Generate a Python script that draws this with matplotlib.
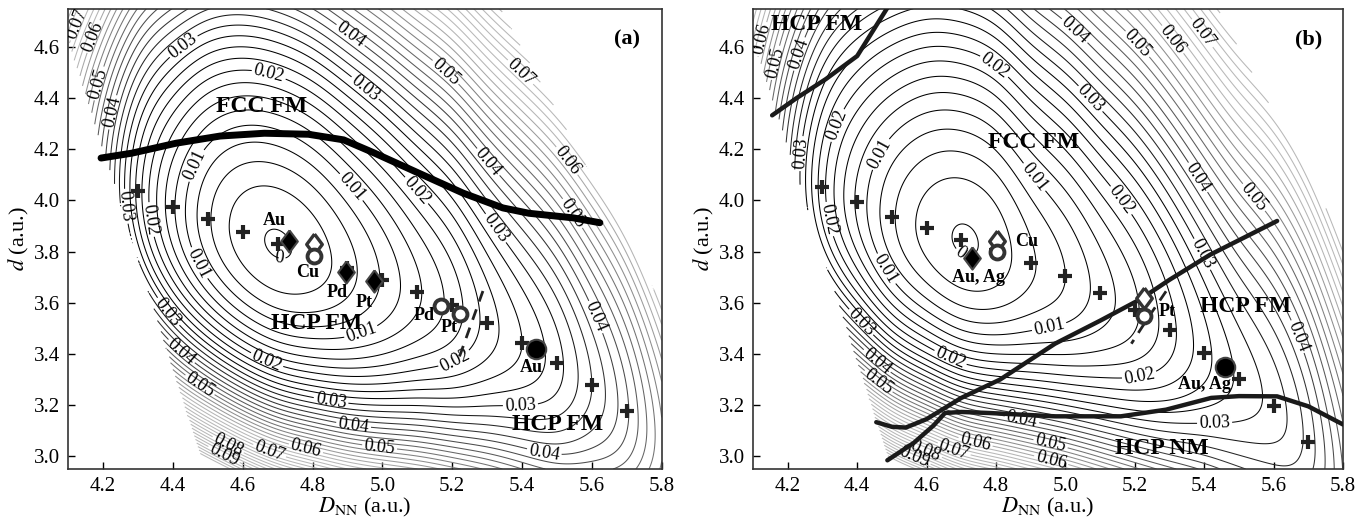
import numpy as np
import matplotlib
matplotlib.use("Agg")
import matplotlib.pyplot as plt

plt.rcParams['font.family'] = ['Liberation Serif', 'DejaVu Serif']
plt.rcParams['mathtext.fontset'] = 'stix'

# ---------------- data ----------------
# epitaxial path (the "+" points) : D_NN, d and energy along the path
path_x = [4.1, 4.2, 4.3, 4.4, 4.5, 4.6, 4.7, 4.8, 4.9, 5.0, 5.1, 5.2, 5.3, 5.4, 5.5, 5.6, 5.7, 5.8]
path_y_a = [4.158, 4.097, 4.036, 3.975, 3.928, 3.878, 3.828, 3.784, 3.735, 3.69, 3.644, 3.59, 3.52, 3.444, 3.363, 3.277, 3.176, 3.06]
path_E_a = [0.060, 0.041, 0.024, 0.013, 0.0055, 0.0012, -0.0002, 0.0010, 0.0040, 0.0078, 0.0120, 0.0160, 0.021, 0.025, 0.029, 0.035, 0.042, 0.052]
path_y_b = [4.165, 4.11, 4.054, 3.996, 3.935, 3.892, 3.846, 3.807, 3.755, 3.703, 3.64, 3.573, 3.495, 3.404, 3.30, 3.195, 3.055, 2.90]
path_E_b = [0.056, 0.036, 0.021, 0.012, 0.0055, 0.0015, -0.0002, 0.0010, 0.0045, 0.0075, 0.011, 0.0145, 0.019, 0.024, 0.028, 0.031, 0.036, 0.045]
plus_first, plus_last = 2, 16  # "+" markers at D_NN = 4.3 ... 5.7

# stiffness above / below the path  (k_up, softening_up, k_down, hardening_down)
stiff_a = [0.062, 0.5, 0.074, 0.5]
stiff_b = [0.054, 0.65, 0.068, 0.6]

levels_step = 0.0025
levels_max = 0.10
label_step = 0.01

# panel (a) boundary line FCC / HCP
bnd_a_x = [4.194, 4.282, 4.409, 4.535, 4.662, 4.788, 4.889, 4.978, 5.104, 5.231, 5.345, 5.42, 5.547, 5.623]
bnd_a_y = [4.166, 4.185, 4.224, 4.252, 4.263, 4.259, 4.237, 4.185, 4.107, 4.029, 3.971, 3.95, 3.932, 3.913]
dash_a_x = [5.288, 5.255, 5.218]
dash_a_y = [3.646, 3.52, 3.379]

# panel (b) boundary lines
lineA_x = [4.455, 4.50, 4.54, 4.60, 4.70, 4.812, 4.97, 5.10, 5.215, 5.30, 5.417, 5.61]
lineA_y = [3.133, 3.115, 3.112, 3.145, 3.228, 3.30, 3.44, 3.53, 3.613, 3.69, 3.788, 3.92]
lineB_x = [4.487, 4.563, 4.62, 4.653, 4.70, 4.78, 4.97, 5.16, 5.29, 5.42, 5.50, 5.61, 5.70, 5.80]
lineB_y = [2.984, 3.052, 3.12, 3.169, 3.173, 3.169, 3.156, 3.156, 3.182, 3.228, 3.235, 3.234, 3.195, 3.124]
lineC_x = [4.155, 4.225, 4.31, 4.40, 4.49]
lineC_y = [4.333, 4.40, 4.475, 4.565, 4.76]
dash_b_x = [5.29, 5.24, 5.19]
dash_b_y = [3.645, 3.545, 3.44]

# symbols
a_fdia_x, a_fdia_y = [4.732, 4.895, 4.977], [3.843, 3.719, 3.686]
a_odia_x, a_odia_y = [4.804], [3.83]
a_ocir_x, a_ocir_y = [4.804, 5.168, 5.221], [3.784, 3.589, 3.556]
a_fcir_x, a_fcir_y = [5.44], [3.42]
a_el_txt = ['Au', 'Cu', 'Pd', 'Pt', 'Pd', 'Pt', 'Au']
a_el_x = [4.69, 4.785, 4.87, 4.948, 5.12, 5.192, 5.427]
a_el_y = [3.92, 3.72, 3.64, 3.60, 3.55, 3.504, 3.346]
a_ph_txt = ['FCC FM', 'HCP FM', 'HCP FM']
a_ph_x = [4.655, 4.81, 5.503]
a_ph_y = [4.367, 3.52, 3.124]

b_fdia_x, b_fdia_y = [4.73], [3.775]
b_odia_x, b_odia_y = [4.804, 5.225], [3.84, 3.619]
b_ocir_x, b_ocir_y = [4.804, 5.225], [3.797, 3.55]
b_fcir_x, b_fcir_y = [5.459], [3.348]
b_el_txt = ['Cu', 'Au, Ag', 'Pt', 'Au, Ag']
b_el_x = [4.889, 4.749, 5.292, 5.40]
b_el_y = [3.84, 3.697, 3.566, 3.28]
b_ph_txt = ['FCC FM', 'HCP FM', 'HCP NM', 'HCP FM']
b_ph_x = [4.908, 5.52, 5.278, 4.283]
b_ph_y = [4.226, 3.585, 3.029, 4.69]

# contour label positions
lab_a = [(4.70, 3.75),
         (4.472, 4.133), (4.459, 3.744), (4.908, 4.049), (4.95, 3.44),
         (4.674, 4.49), (4.34, 3.926), (5.09, 4.03), (4.668, 3.372), (5.206, 3.379),
         (4.409, 4.64), (4.953, 4.444), (4.263, 3.977), (5.32, 3.887), (4.377, 3.555), (4.851, 3.202), (5.395, 3.222),
         (4.927, 4.68), (4.21, 4.35), (5.294, 4.14), (4.421, 3.405), (4.915, 3.098), (5.465, 3.026), (5.585, 3.529),
         (5.18, 4.50), (4.19, 4.457), (5.534, 3.94), (4.478, 3.28), (4.99, 3.013),
         (4.156, 4.65), (5.52, 4.146), (4.78, 3.026),
         (4.124, 4.69), (5.408, 4.52), (4.68, 3.033),
         (4.56, 3.05), (4.555, 3.03)]
lab_b = [(4.705, 3.807),
         (4.455, 4.19), (4.468, 3.72), (4.90, 4.08), (4.96, 3.46),
         (4.35, 4.29), (4.296, 3.92), (4.77, 4.48), (5.15, 3.99), (4.666, 3.377), (5.214, 3.306),
         (4.27, 4.18), (5.05, 4.37), (5.38, 3.78), (4.40, 3.51), (4.88, 3.18), (5.43, 3.117),
         (4.24, 4.57), (5.01, 4.64), (5.37, 4.08), (5.67, 3.468), (4.45, 3.36), (4.96, 3.065),
         (4.16, 4.54), (5.19, 4.59), (5.55, 4.02), (4.46, 3.29), (4.96, 2.99),
         (4.13, 4.63), (5.30, 4.62), (4.74, 3.05),
         (5.39, 4.65), (4.68, 3.03),
         (4.60, 3.03), (4.56, 2.98)]

xticks = [4.2, 4.4, 4.6, 4.8, 5.0, 5.2, 5.4, 5.6, 5.8]
yticks = [3.0, 3.2, 3.4, 3.6, 3.8, 4.0, 4.2, 4.4, 4.6]


def nat_spline(xk, yk, xq):
    xk = np.asarray(xk, float); yk = np.asarray(yk, float)
    n = len(xk); h = np.diff(xk)
    A = np.zeros((n, n)); r = np.zeros(n)
    A[0, 0] = 1; A[-1, -1] = 1
    for i in range(1, n - 1):
        A[i, i - 1] = h[i - 1]; A[i, i] = 2 * (h[i - 1] + h[i]); A[i, i + 1] = h[i]
        r[i] = 3 * ((yk[i + 1] - yk[i]) / h[i] - (yk[i] - yk[i - 1]) / h[i - 1])
    c = np.linalg.solve(A, r)
    b = (yk[1:] - yk[:-1]) / h - h * (2 * c[:-1] + c[1:]) / 3
    d = (c[1:] - c[:-1]) / (3 * h)
    i = np.clip(np.searchsorted(xk, xq) - 1, 0, n - 2)
    t = xq - xk[i]
    return yk[i] + b[i] * t + c[i] * t ** 2 + d[i] * t ** 3


def surface(X, Y, py, pE, st):
    ys = nat_spline(path_x, py, X)
    e0 = nat_spline(path_x, pE, X)
    dy = Y - ys
    up = st[0] * dy ** 2 / (1 + st[1] * np.abs(dy))
    dn = st[2] * dy ** 2 * (1 + st[3] * np.abs(dy))
    return e0 + np.where(dy > 0, up, dn)


gx = np.linspace(4.1, 5.8, 500)
gy = np.linspace(2.95, 4.75, 500)
GX, GY = np.meshgrid(gx, gy)

all_levels = np.round(np.arange(0, levels_max + 1e-9, levels_step), 4)
lab_levels = np.round(np.arange(0, levels_max + 1e-9, label_step), 4)
plain_levels = np.array([v for v in all_levels if not np.any(np.isclose(v, lab_levels))])


def lev_color(v):
    g = float(np.clip((v - 0.028) / 0.035, 0, 1) * 0.72)
    return (g, g, g)


def fmt(v):
    return '0' if abs(v) < 1e-9 else '%.2f' % v


fig = plt.figure(figsize=(13.62, 5.18), dpi=100)
axa = fig.add_axes([0.0501, 0.0946, 0.4357, 0.8886])
axb = fig.add_axes([0.5529, 0.0946, 0.4332, 0.8886])

diamond = [(0, 1), (0.75, 0), (0, -1), (-0.75, 0), (0, 1)]


def draw_panel(ax, py, pE, st, left_b, ur_b, labpos):
    E = surface(GX, GY, py, pE, st)
    mask = (GX < left_b[0] + left_b[1] * (GY - left_b[2])) | (GX > ur_b[0] + ur_b[1] * (GY - ur_b[2]))
    Em = np.ma.masked_where(mask, E)
    ax.set_xlim(4.1, 5.8)
    ax.set_ylim(2.95, 4.75)
    ax.contour(GX, GY, Em, levels=plain_levels, colors=[lev_color(v) for v in plain_levels], linewidths=0.75)
    cs = ax.contour(GX, GY, Em, levels=lab_levels, colors=[lev_color(v) for v in lab_levels], linewidths=0.75)
    ax.clabel(cs, manual=labpos, fmt=fmt, fontsize=13, colors='k', inline=True, inline_spacing=2)
    ax.set_xticks(xticks)
    ax.set_yticks(yticks)
    ax.set_xticklabels(['%.1f' % v for v in xticks])
    ax.set_yticklabels(['%.1f' % v for v in yticks])
    ax.tick_params(direction='in', length=5, width=1, labelsize=15, top=False, right=False, pad=6)
    for s in ax.spines.values():
        s.set_color('#333333'); s.set_linewidth(1.2)
    ax.set_xlabel(r'$D_{\rm NN}$ (a.u.)', fontsize=16, labelpad=0)
    ax.set_ylabel(r'$d$ (a.u.)', fontsize=16, labelpad=2)
    ax.plot(path_x[plus_first:plus_last + 1], py[plus_first:plus_last + 1], ls='none', marker='+',
            ms=10, mew=3, color='#222222', zorder=5)


def draw_symbols(ax, fdx, fdy, odx, ody, ocx, ocy, fcx, fcy):
    ax.plot(odx, ody, ls='none', marker=diamond, ms=15, mfc='white', mec='#333333', mew=2.4, zorder=6)
    ax.plot(ocx, ocy, ls='none', marker='o', ms=10, mfc='white', mec='#333333', mew=2.8, zorder=7)
    ax.plot(fdx, fdy, ls='none', marker=diamond, ms=16, mfc='black', mec='#444444', mew=1.5, zorder=8)
    ax.plot(fcx, fcy, ls='none', marker='o', ms=14, mfc='black', mec='#444444', mew=1.5, zorder=8)


# ---------------- panel (a) ----------------
draw_panel(axa, path_y_a, path_E_a, stiff_a, (4.335, -0.233, 3.612), (5.62, -0.4, 4.05), lab_a)
axa.plot(bnd_a_x, bnd_a_y, color='black', lw=5, solid_capstyle='round', solid_joinstyle='round', zorder=4)
axa.plot(dash_a_x, dash_a_y, color='#222222', lw=2, ls=(0, (4, 3)), zorder=4)
draw_symbols(axa, a_fdia_x, a_fdia_y, a_odia_x, a_odia_y, a_ocir_x, a_ocir_y, a_fcir_x, a_fcir_y)
for t, x, y in zip(a_el_txt, a_el_x, a_el_y):
    axa.text(x, y, t, fontsize=13, fontweight='bold', ha='center', va='center', zorder=9)
for t, x, y in zip(a_ph_txt, a_ph_x, a_ph_y):
    axa.text(x, y, t, fontsize=17, fontweight='bold', ha='center', va='center', zorder=9)
axa.text(5.70, 4.63, '(a)', fontsize=16, fontweight='bold', ha='center', va='center')

# ---------------- panel (b) ----------------
draw_panel(axb, path_y_b, path_E_b, stiff_b, (4.487, -0.239, 3.0), (5.72, -0.4, 4.05), lab_b)
for lx, ly in [(lineA_x, lineA_y), (lineB_x, lineB_y), (lineC_x, lineC_y)]:
    axb.plot(lx, ly, color='#1a1a1a', lw=3.2, solid_capstyle='round', solid_joinstyle='round', zorder=4)
axb.plot(dash_b_x, dash_b_y, color='#222222', lw=2, ls=(0, (4, 3)), zorder=4)
draw_symbols(axb, b_fdia_x, b_fdia_y, b_odia_x, b_odia_y, b_ocir_x, b_ocir_y, b_fcir_x, b_fcir_y)
for t, x, y in zip(b_el_txt, b_el_x, b_el_y):
    axb.text(x, y, t, fontsize=13, fontweight='bold', ha='center', va='center', zorder=9)
for t, x, y in zip(b_ph_txt, b_ph_x, b_ph_y):
    axb.text(x, y, t, fontsize=17, fontweight='bold', ha='center', va='center', zorder=9)
axb.text(5.70, 4.63, '(b)', fontsize=16, fontweight='bold', ha='center', va='center')

fig.savefig('out.png', dpi=100)
